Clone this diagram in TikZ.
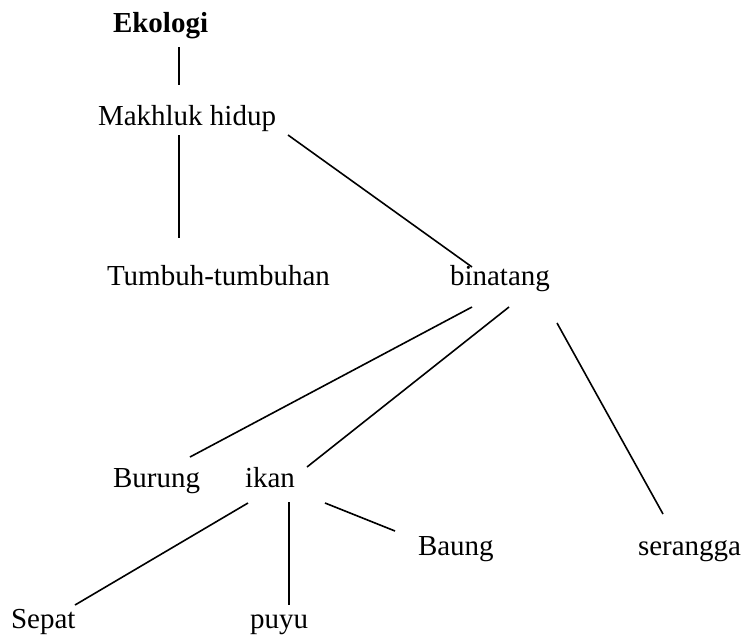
\documentclass[tikz,border=0pt]{standalone}
\usepackage{fontspec}
\setmainfont{Liberation Serif}
\begin{document}
\begin{tikzpicture}[x=1pt,y=-1pt,
  lbl/.style={anchor=base west,inner sep=0pt,outer sep=0pt,font=\fontsize{29}{34}\selectfont},
  edge/.style={line width=1.6pt,line cap=butt}]
\useasboundingbox (0,0) rectangle (744,638);
% nodes
\node[lbl,font=\fontsize{29}{34}\selectfont\bfseries] (eko) at (113,32) {Ekologi};
\node[lbl] (mak) at (98,125) {Makhluk hidup};
\node[lbl] (tum) at (107,285) {Tumbuh-tumbuhan};
\node[lbl] (bin) at (450,285) {binatang};
\node[lbl] (bur) at (113,487) {Burung};
\node[lbl] (ika) at (245,487) {ikan};
\node[lbl] (bau) at (418,555) {Baung};
\node[lbl] (ser) at (638,555) {serangga};
\node[lbl] (sep) at (11,628) {Sepat};
\node[lbl] (puy) at (250,628) {puyu};
% connector end points
\coordinate (eko-s) at (179,47);
\coordinate (mak-n) at (179,85);
\coordinate (mak-s) at (179,135);
\coordinate (mak-se) at (288,135);
\coordinate (tum-n) at (179,238);
\coordinate (bin-nw) at (472,267);
\coordinate (bin-sw) at (472,307);
\coordinate (bin-s) at (509,307);
\coordinate (bin-se) at (557,323);
\coordinate (bur-n) at (190,457);
\coordinate (ika-ne) at (307,467);
\coordinate (ser-n) at (663,514);
\coordinate (ika-sw) at (248,503);
\coordinate (ika-s) at (289,502);
\coordinate (ika-se) at (325,503);
\coordinate (sep-n) at (75,605);
\coordinate (puy-n) at (289,605);
\coordinate (bau-w) at (395,531);
% connectors
\draw[edge] (eko-s) -- (mak-n);
\draw[edge] (mak-s) -- (tum-n);
\draw[edge] (mak-se) -- (bin-nw);
\draw[edge] (bin-sw) -- (bur-n);
\draw[edge] (bin-s) -- (ika-ne);
\draw[edge] (bin-se) -- (ser-n);
\draw[edge] (ika-sw) -- (sep-n);
\draw[edge] (ika-s) -- (puy-n);
\draw[edge] (ika-se) -- (bau-w);
\end{tikzpicture}
\end{document}
